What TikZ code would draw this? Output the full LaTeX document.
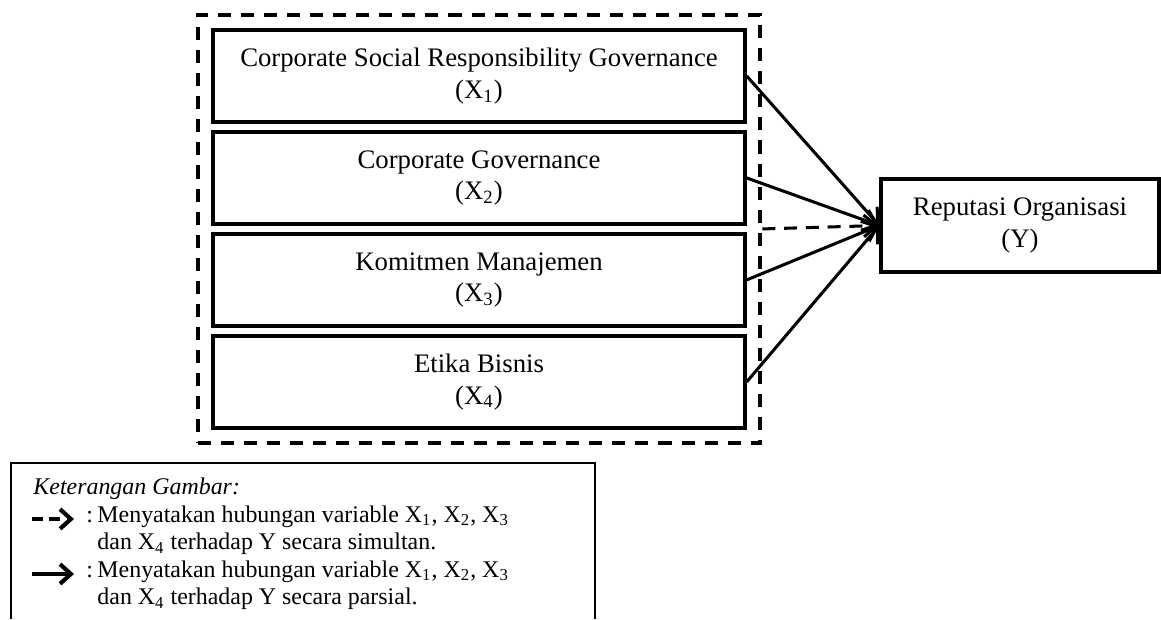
\documentclass[tikz,border=0pt]{standalone}
\usepackage{fontspec}
\setmainfont{Liberation Serif}
\usepackage{tikz}
\usetikzlibrary{arrows.meta, positioning, fit}

\begin{document}
\begin{tikzpicture}[x=0.46pt, y=-0.46pt,
	varbox/.style={draw, line width=1.6pt, minimum width=244.7pt, minimum height=42.3pt,
		inner sep=0pt, align=center, font=\fontsize{12.3}{14.5}\selectfont},
	groupbox/.style={draw, line width=1.8pt, dash pattern=on 6pt off 4.6pt, inner sep=6.3pt},
	relarrow/.style={line width=1.4pt, -{Straight Barb[length=6pt, width=10pt]}},
	legarrow/.style={line width=1.9pt, -{Straight Barb[length=5pt, width=9pt]}},
	legtext/.style={inner sep=0pt, align=left, font=\fontsize{11}{12.65}\selectfont}]
	\useasboundingbox (0,0) rectangle (1161,619);

	\node[varbox] (x1) at (479,76) {Corporate Social Responsibility Governance\\(X\textsubscript{1})};
	\node[varbox, below=3pt of x1] (x2) {Corporate Governance\\(X\textsubscript{2})};
	\node[varbox, below=3pt of x2] (x3) {Komitmen Manajemen\\(X\textsubscript{3})};
	\node[varbox, below=3pt of x3] (x4) {Etika Bisnis\\(X\textsubscript{4})};
	\node[groupbox, fit=(x1)(x4)] (grp) {};
	\node[varbox, minimum width=127.9pt, minimum height=42.8pt] (y) at (1020,225.5) {Reputasi Organisasi\\(Y)};

	\draw[relarrow] (x1.east) -- (y.west);
	\draw[relarrow] (x2.east) -- (y.west);
	\draw[relarrow] (x3.east) -- (y.west);
	\draw[relarrow] (x4.east) -- (y.west);
	\draw[relarrow, dash pattern=on 6pt off 4pt] (grp.east) -- (y.west);

	\draw[line width=0.9pt] (11,619) -- (11,463) -- (595,463) -- (595,619);
	\node[legtext, anchor=base west, font=\fontsize{11}{12.65}\selectfont\itshape] (ket) at (33,494) {Keterangan Gambar:};
	\coordinate (s1) at (32,519);
	\coordinate (e1) at (74,519);
	\coordinate (s2) at (32,574);
	\coordinate (e2) at (74,574);
	\draw[legarrow, dash pattern=on 5pt off 3pt] (s1) -- (e1);
	\draw[legarrow] (s2) -- (e2);
	\node[legtext, anchor=base west] (c1) at (86,522) {:};
	\node[legtext, anchor=base west] (c2) at (86,577) {:};
	\node[legtext, anchor=west] (t1) at (97,530) {Menyatakan hubungan variable X\textsubscript{1}, X\textsubscript{2}, X\textsubscript{3}\\dan X\textsubscript{4} terhadap Y secara simultan.};
	\node[legtext, anchor=west] (t2) at (97,585) {Menyatakan hubungan variable X\textsubscript{1}, X\textsubscript{2}, X\textsubscript{3}\\dan X\textsubscript{4} terhadap Y secara parsial.};
\end{tikzpicture}
\end{document}
